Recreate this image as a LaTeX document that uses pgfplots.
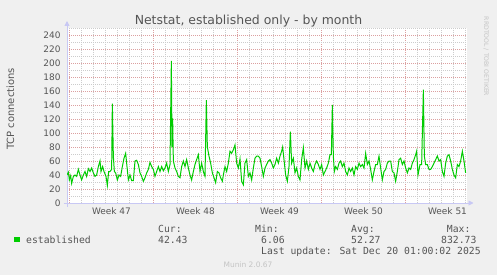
\documentclass[border=0pt]{standalone}
\usepackage{pgfplots}
\pgfplotsset{compat=1.18}
\usepackage{pgfplotstable}
\usepackage{fontspec}
\setmainfont{DejaVu Sans}
\newfontfamily\monofont{DejaVu Sans Mono}
\usetikzlibrary{arrows.meta}
\definecolor{bgc}{HTML}{F0F0F0}
\definecolor{txt}{HTML}{555555}
\definecolor{lgreen}{HTML}{00CC00}
\definecolor{majg}{HTML}{DCA0A0}
\definecolor{ming}{HTML}{CCCCCC}
\definecolor{axc}{HTML}{C8C8F4}
\definecolor{faint}{HTML}{C4C4C4}

% hours since left edge of graph, established TCP connections
\pgfplotstableread{
h v
0 40
2.7 44
4.7 33
7.3 39
9.3 28
12.7 38
16 40
19.3 38
22.7 48
26 40
29.3 33
32.7 40
36 45
39.3 38
42.7 49
46 45
49.3 50
52.7 43
56 38
59.3 40
62.7 52
66 60
68 45
71.3 52
74 45
78 38
80.7 25
83.3 45
86 45
89.3 48
90.7 142
92.7 67
94.7 45
97.3 43
100.7 33
104 40
107.3 38
110.7 52
114 64
117.3 71
119.3 57
122.7 33
126 40
129.3 32
132.7 32
136 60
139.3 61
142.7 55
146 43
149.3 38
152.7 31
156 36
159.3 43
162.7 48
166 58
169.3 52
172.7 48
176 38
179.3 45
182.7 52
186 45
189.3 52
192.7 46
196 50
199.3 57
202.7 45
206 55
208.7 203
210 80
211.3 121
212.7 60
216 50
219.3 45
222.7 38
226 36
229.3 52
232.7 60
236 52
239.3 62
242.7 50
246 40
249.3 33
252.7 45
256 55
259.3 62
262.7 69
266 45
269.3 57
272.7 45
276 38
278.7 147
280.7 80
284 67
287.3 57
290.7 43
294 36
297.3 29
300.7 45
304 43
307.3 36
310.7 31
312.7 40
316 52
319.3 45
322.7 57
326 74
329.3 71
332.7 76
336 83
339.3 57
342.7 50
346 63
349.3 31
352.7 26
356 57
359.3 62
362.7 38
366 43
369.3 33
372.7 50
376 64
379.3 67
382.7 67
386 64
389.3 52
392.7 38
396 50
399.3 55
402.7 60
406 62
409.3 57
412.7 50
416 55
419.3 64
422.7 57
426 67
429.3 74
431.3 80
434 62
437.3 40
440.7 31
444 52
446.7 102
449.3 57
452.7 64
456 43
459.3 50
462.7 38
466 33
469.3 62
472.7 79
476 50
479.3 60
482.7 48
486 57
489.3 50
492.7 45
496 55
499.3 60
502.7 55
506 48
509.3 55
512.7 40
516 45
519.3 50
522.7 57
526 69
528.7 69
530.7 140
532.7 67
534.7 45
537.3 52
540.7 48
544 57
547.3 60
550.7 52
554 57
557.3 45
560.7 40
564 50
567.3 45
570.7 50
574 40
577.3 52
580.7 48
584 57
587.3 52
590.7 55
594 50
597.3 71
600.7 55
604 60
607.3 48
610.7 33
614 45
617.3 55
620.7 55
624 67
627.3 50
630.7 33
634 45
637.3 48
640.7 57
644 60
647.3 60
650.7 45
654 43
657.3 31
660.7 45
664 62
667.3 64
670.7 55
674 60
677.3 50
680.7 43
684 50
687.3 48
690.7 57
694 62
697.3 69
699.3 74
702 40
706 55
709.3 55
712.7 162
714.7 67
717.3 55
720.7 55
724 48
727.3 48
730.7 52
734 57
737.3 62
740.7 67
744 60
747.3 62
750.7 45
754 38
757.3 57
760.7 67
764 69
767.3 60
770.7 48
774 40
777.3 36
780.7 55
784 52
787.3 60
790.7 74
794 60
797.3 43
}\estab

\begin{document}
\begin{tikzpicture}[x=1bp,y=1bp]
\fill[bgc] (0,0) rectangle (497,275);
\begin{axis}[
  at={(67bp,72bp)}, anchor=south west,
  scale only axis, width=400bp, height=175bp,
  xmin=0, xmax=800, ymin=0, ymax=250,
  axis background/.style={fill=white},
  axis lines=left,
  axis line style={draw=axc, line width=0.9bp},
  x axis line style={-{Triangle[length=5bp,width=5bp]}, shorten >=-6.5bp, shorten <=-3.5bp},
  y axis line style={-{Triangle[length=5bp,width=5bp]}, shorten >=-7bp, shorten <=-3.5bp},
  xtick={5,173,341,509,677}, xticklabels={,,,,},
  minor xtick={29,53,77,101,125,149,197,221,245,269,293,317,365,389,413,437,461,485,533,557,581,605,629,653,701,725,749,773,797},
  ytick={0,20,...,240}, minor ytick={10,30,...,250},
  xmajorgrids, xminorgrids, ymajorgrids, yminorgrids,
  major grid style={draw=majg, dash pattern=on 1bp off 1bp, line width=0.7bp},
  minor grid style={draw=ming, dash pattern=on 1bp off 1bp, line width=0.7bp},
  major tick length=0pt, minor tick length=0pt,
  extra x ticks={89,257,425,593,761},
  extra x tick labels={Week 47,Week 48,Week 49,Week 50,Week 51},
  extra x tick style={grid=none, major tick length=0pt},
  /pgf/number format/assume math mode=true,
  yticklabel style={font=\fontsize{9}{10}\selectfont, text=txt, inner sep=0pt, anchor=east, xshift=-6.3bp},
  xticklabel style={font=\fontsize{9}{10}\selectfont, text=txt, inner sep=0pt, anchor=north, yshift=-4.5bp},
]
\addplot[draw=lgreen, line width=1bp, mark=none] table[x=h, y=v] {\estab};
\end{axis}
% title and labels
\node[anchor=base, inner sep=0pt, text=txt, font=\fontsize{12.5}{14}\selectfont] at (248.5,251) {Netstat, established only - by month};
\node[rotate=90, inner sep=0pt, text=txt, font=\fontsize{10}{12}\selectfont] at (10.5,166) {TCP connections};
\node[rotate=-90, inner sep=0pt, text=faint, font=\fontsize{6.2}{7}\selectfont] at (486,218.5) {RRDTOOL / TOBI OETIKER};
% legend
\fill[lgreen] (14,32.7) rectangle (19.5,38.2);
\begin{scope}[every node/.style={anchor=base west, inner sep=0pt, text=txt, font=\monofont\fontsize{9.8}{11}\selectfont}]
\node at (26,31.7) {established};
\node at (158,43) {Cur:};
\node at (158,31.7) {42.43};
\node at (255,43) {Min:};
\node at (261,31.7) {6.06};
\node at (351,43) {Avg:};
\node at (351,31.7) {52.27};
\node at (446.7,43) {Max:};
\node at (441,31.7) {832.73};
\node at (261,21) {Last update: Sat Dec 20 01:00:02 2025};
\end{scope}
\node[anchor=base, inner sep=0pt, text=faint, font=\fontsize{7.5}{9}\selectfont] at (248,7.5) {Munin 2.0.67};
\end{tikzpicture}
\end{document}
